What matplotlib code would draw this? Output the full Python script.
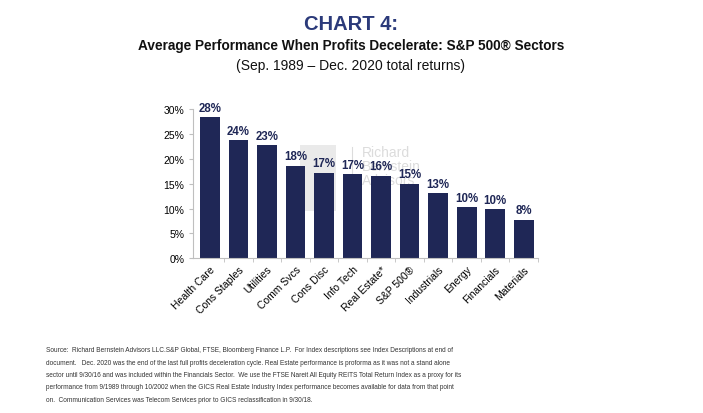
import matplotlib
matplotlib.use("Agg")
import matplotlib.pyplot as plt
from matplotlib.ticker import FuncFormatter, FixedLocator
from matplotlib.patches import Rectangle

categories = ["Health Care", "Cons Staples", "Utilities", "Comm Svcs", "Cons Disc",
              "Info Tech", "Real Estate*", "S&P 500\u00ae", "Industrials", "Energy",
              "Financials", "Materials"]
values = [28.3, 23.7, 22.7, 18.6, 17.2, 16.9, 16.6, 15.0, 13.1, 10.3, 9.9, 7.7]
labels = ["28%", "24%", "23%", "18%", "17%", "17%", "16%", "15%", "13%", "10%", "10%", "8%"]
yticks = [0, 5, 10, 15, 20, 25, 30]

title = "CHART 4:"
subtitle = "Average Performance When Profits Decelerate: S&P 500\u00ae Sectors"
subtitle2 = "(Sep. 1989 \u2013 Dec. 2020 total returns)"
footnote_lines = [
    "Source:  Richard Bernstein Advisors LLC.S&P Global, FTSE, Bloomberg Finance L.P.  For Index descriptions see Index Descriptions at end of",
    "document.   Dec. 2020 was the end of the last full profits deceleration cycle. Real Estate performance is proforma as it was not a stand alone",
    "sector until 9/30/16 and was included within the Financials Sector.  We use the FTSE Nareit All Equity REITS Total Return Index as a proxy for its",
    "performance from 9/1989 through 10/2002 when the GICS Real Estate Industry Index performance becomes available for data from that point",
    "on.  Communication Services was Telecom Services prior to GICS reclassification in 9/30/18.",
]

SANS = ["Liberation Sans", "DejaVu Sans"]
plt.rcParams['font.family'] = SANS

navy = "#1F2756"
fig = plt.figure(figsize=(7.03, 4.14), dpi=100)
W, H = 703, 414

ax = fig.add_axes([192.7 / W, 1 - 259.3 / H, (538 - 192.7) / W, (259.3 - 110) / H])
ax.patch.set_alpha(0)

# watermark (faint logo behind the bars)
ax.add_patch(Rectangle((300 / W, 1 - 212 / H), 36 / W, 66 / H, transform=fig.transFigure,
                       facecolor="#EAEAEA", edgecolor="none", zorder=0, clip_on=False))
ax.text(362 / W, 1 - 146 / H, "Richard\nBernstein\nAdvisors", color="#DCDCDC", fontsize=10,
        ha="left", va="top", linespacing=1.0, zorder=0, transform=fig.transFigure)
ax.add_line(plt.Line2D([352 / W, 352 / W], [1 - 148 / H, 1 - 200 / H], transform=fig.transFigure,
                       color="#DCDCDC", lw=0.8, zorder=0, clip_on=False))

x = list(range(len(categories)))
ax.bar(x, values, width=0.69, color=navy, zorder=2)
for xi, v, lab in zip(x, values, labels):
    ax.text(xi, v + 0.7, lab, ha="center", va="bottom", color=navy, fontsize=8.3,
            fontweight="bold", zorder=3)

ax.set_xlim(-0.6, 11.5)
ax.set_ylim(0, 30)
ax.set_yticks(yticks)
ax.yaxis.set_major_formatter(FuncFormatter(lambda v, p: f"{v:.0f}%"))
ax.set_xticks(x)
ax.set_xticklabels(categories, rotation=45, ha="right", rotation_mode="anchor", fontsize=7.5)
ax.xaxis.set_minor_locator(FixedLocator([i + 0.5 for i in x]))
ax.tick_params(axis="x", which="major", length=0, pad=4)
ax.tick_params(axis="x", which="minor", length=3, color="#BFBFBF", direction="out")
ax.tick_params(axis="y", length=3, color="#BFBFBF", labelsize=7.5, pad=3)
for s in ["top", "right"]:
    ax.spines[s].set_visible(False)
for s in ["left", "bottom"]:
    ax.spines[s].set_color("#BFBFBF")
    ax.spines[s].set_linewidth(0.8)

fig.text(351 / W, 1 - 24 / H, title, ha="center", va="center", color="#2B3A7A", fontsize=14.5,
         fontweight="bold")
fig.text(351 / W, 1 - 46 / H, subtitle, ha="center", va="center", color="#111111", fontsize=9.8,
         fontweight="bold")
fig.text(351 / W, 1 - 66 / H, subtitle2, ha="center", va="center", color="#111111", fontsize=10)
for i, line in enumerate(footnote_lines):
    fig.text(46 / W, 1 - (351 + 12.3 * i) / H, line, ha="left", va="center", color="#333333",
             fontsize=4.7)

fig.savefig("out.png", dpi=100)
